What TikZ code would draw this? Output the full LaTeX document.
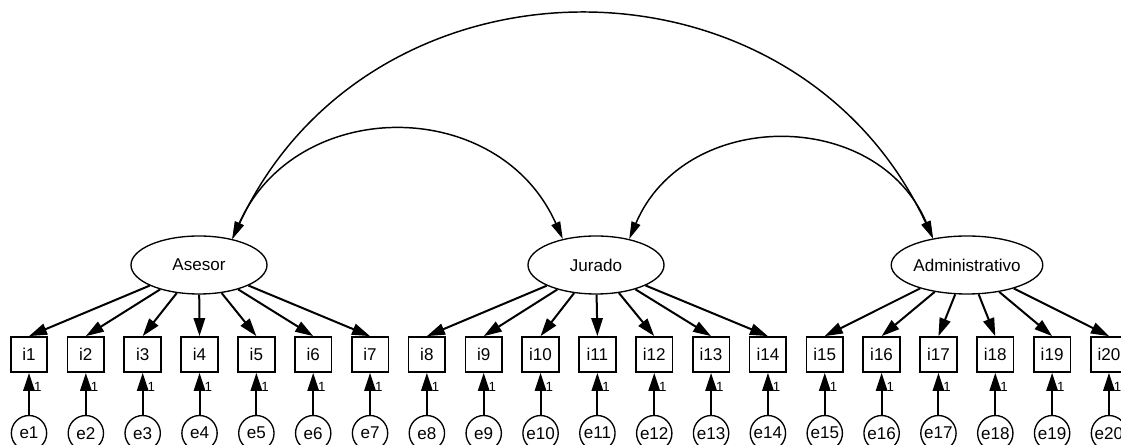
\documentclass[tikz,border=0pt]{standalone}
\usepackage{fontspec}
\setmainfont{Liberation Sans}
\usetikzlibrary{shapes,arrows.meta,positioning}
\tikzstyle{latent} = [ellipse, draw, line width=1pt, minimum width=102pt,
    minimum height=43.5pt, inner sep=0pt]
\tikzstyle{item} = [rectangle, draw, line width=1.3pt, minimum width=27.5pt,
    minimum height=26.25pt, inner sep=0pt]
\tikzstyle{error} = [circle, draw, line width=1pt, minimum size=26.5pt, inner sep=0pt]
\tikzstyle{line} = [draw, line width=1.5pt, -{Triangle[length=13.5pt,width=8.5pt]}]
\tikzstyle{cov} = [draw, line width=1.1pt,
    {Triangle[length=13pt,width=7pt]}-{Triangle[length=13pt,width=7pt]}]
\tikzstyle{weight} = [right, font=\fontsize{10}{11}\selectfont, inner sep=0.5pt, xshift=2.5pt]

\begin{document}
\begin{tikzpicture}[x=0.75pt, y=0.75pt, font=\fontsize{12.8}{14}\selectfont, node distance=31.5pt]
    \useasboundingbox (0,0) rectangle (1121,445);
    % Place nodes
    \node [latent] (asesor) at (199,180) {Asesor};
    \node [latent] (jurado) at (596,180) {Jurado};
    \node [latent] (admin) at (967,180) {Administrativo};
    \foreach \n in {1,...,20} {
        \node [item] (i\n) at ({29+56.84*(\n-1)},90.5) {i\n};
        \node [error, below=of i\n] (e\n) {e\n};
    }
    % Draw edges
    \foreach \n in {1,...,7} \path [line] (asesor) -- (i\n.north);
    \foreach \n in {8,...,14} \path [line] (jurado) -- (i\n.north);
    \foreach \n in {15,...,20} \path [line] (admin) -- (i\n.north);
    \foreach \n in {1,...,20} \path [line] (e\n) -- node [weight, pos=0.66] {1} (i\n);
    % Covariances
    \path [cov] (asesor.38) to [out=66, in=114, looseness=1.22] (jurado.142);
    \path [cov] (jurado.38) to [out=67, in=113, looseness=1.2] (admin.142);
    \path [cov] (asesor.38) to [out=65, in=115, looseness=1.2] (admin.142);
\end{tikzpicture}
\end{document}
